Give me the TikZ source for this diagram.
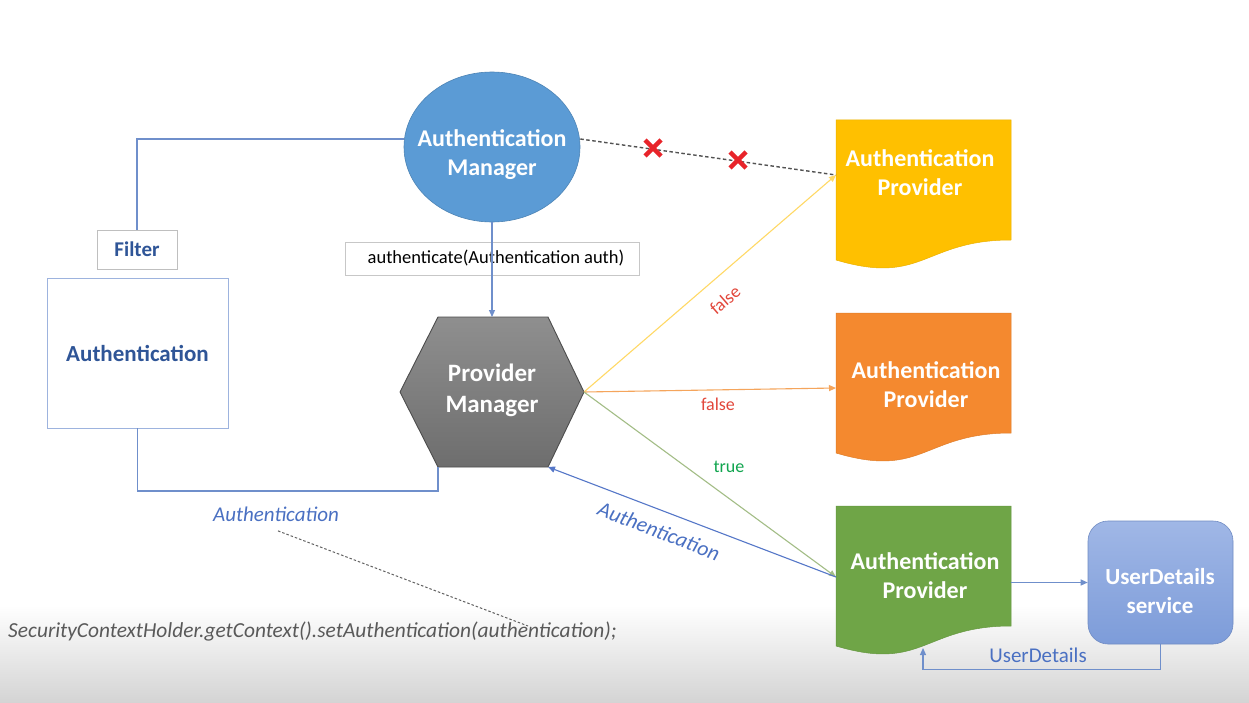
\documentclass[tikz,border=0pt]{standalone}
\usepackage{fontspec}
\setmainfont{Carlito}
\usetikzlibrary{arrows.meta,shapes.geometric,calc}
\definecolor{amblue}{HTML}{5B9BD5}
\definecolor{dkblue}{HTML}{2F5597}
\definecolor{lnblue}{HTML}{6F8FCB}
\definecolor{boxblue}{HTML}{9DB3DE}
\definecolor{ycol}{HTML}{FFC000}
\definecolor{ocol}{HTML}{F4892F}
\definecolor{gcol}{HTML}{6FA547}
\definecolor{yline}{HTML}{FFD966}
\definecolor{oline}{HTML}{F5A55C}
\definecolor{gline}{HTML}{A3BD86}
\definecolor{rblue}{HTML}{5577C8}
\definecolor{fred}{HTML}{E2473B}
\definecolor{tgreen}{HTML}{11A54F}
\definecolor{xred}{HTML}{E8242A}
\definecolor{udstop}{HTML}{A0B7E6}
\definecolor{udsbot}{HTML}{7D9CD9}
\definecolor{codegray}{HTML}{595959}
\definecolor{lblblue}{HTML}{4A70C2}
\tikzset{
  conn/.style={line width=1.1pt},
  tipend/.style={-{Triangle[length=7pt,width=6pt]}},
  whitebold/.style={font=\bfseries\fontsize{24}{29}\selectfont, text=white, align=center},
  smalllbl/.style={font=\fontsize{18}{21}\selectfont},
  italbl/.style={font=\itshape\fontsize{21}{25}\selectfont, text=lblblue},
  xmark/.style={draw=xred, line width=4.5pt},
}
\begin{document}
\begin{tikzpicture}[x=1pt,y=-1pt]
\useasboundingbox (0,0) rectangle (1249,703);
\fill[white] (0,0) rectangle (1249,703);
\shade[top color=white, bottom color=black!17] (0,605) rectangle (1249,703);

% Authentication Manager
\node[ellipse, fill=amblue, draw=amblue!85!black, line width=0.6pt, inner sep=0pt,
      minimum width=176pt, minimum height=150pt] (am) at (492,147) {};
\node[whitebold] (amtext) at (492,155) {Authentication\\Manager};

% Filter and Authentication box
\node[draw=black!25, line width=0.8pt, minimum width=80pt, minimum height=39pt,
      font=\bfseries\fontsize{21}{25}\selectfont, text=dkblue] (filter) at (137,249.5) {Filter};
\node[draw=boxblue, line width=0.9pt, minimum width=181pt, minimum height=150pt,
      font=\bfseries\fontsize{23}{27}\selectfont, text=dkblue] (authbox) at (137.5,353) {Authentication};
\draw[conn, draw=lnblue] ($(am.west)+(0,-8)$) -| (filter.north);

% authenticate call
\node[draw=black!22, line width=0.8pt, minimum width=294pt, minimum height=33pt,
      font=\fontsize{18.5}{22}\selectfont] (authcall) at (492,258.5) {\hspace{8pt}authenticate(Authentication auth)};

% Provider Manager hexagon
\coordinate (pmT) at (492,317);
\coordinate (pmR) at (584,392);
\coordinate (pmBR) at (548,467);
\coordinate (pmBL) at (438,467);
\shade[top color=black!44, bottom color=black!57, draw=black!70, line width=0.9pt]
  (438,317) -- (548,317) -- (pmR) -- (pmBR) -- (pmBL) -- (400,392) -- cycle;
\node[font=\bfseries\fontsize{25}{31}\selectfont, text=white, align=center] (pm) at (492,390) {Provider\\Manager};

\draw[conn, draw=lnblue, tipend] (am.south) -- (pmT);

% Provider shapes
\path[fill=ycol, draw=ycol!92!black, line width=0.5pt] (836,120) -- (1011,120) -- (1011,240) .. controls (923.5,240) and (923.5,286) .. (836,260) -- cycle;
\path[fill=ocol, draw=ocol!92!black, line width=0.5pt] (836,313) -- (1011,313) -- (1011,433) .. controls (923.5,433) and (923.5,479) .. (836,453) -- cycle;
\path[fill=gcol, draw=gcol!92!black, line width=0.5pt] (836,506) -- (1011,506) -- (1011,626) .. controls (923.5,626) and (923.5,672) .. (836,646) -- cycle;
\node[whitebold] (ap1) at (920,172.5) {Authentication\\Provider};
\node[whitebold] (ap2) at (926,385) {Authentication\\Provider};
\node[whitebold] (ap3) at (925,575.5) {Authentication\\Provider};
\coordinate (ap1in) at (836,175);
\coordinate (ap2in) at (836,388);
\coordinate (ap3in) at (836,577);
\coordinate (ap3out) at (1011,582.5);
\coordinate (ap3bot) at (923,648);

% UserDetails service
\node[rounded corners=20pt, top color=udstop, bottom color=udsbot, draw=udsbot!90!black, line width=0.6pt,
      minimum width=145pt, minimum height=123pt] (uds) at (1160.5,582.5) {};
\node[font=\bfseries\fontsize{23}{29}\selectfont, text=white, align=center] (udstext) at (1160,591) {UserDetails\\service};
\draw[conn, draw=lnblue, tipend] (ap3out) -- (uds.west);
\draw[conn, draw=lnblue, tipend] (uds.south) -- ++(0,25) -| (ap3bot);
\node[font=\fontsize{21}{25}\selectfont, text=lblblue] (udlbl) at (1038,655) {UserDetails};

% connectors from Provider Manager
\draw[conn, draw=yline, tipend] (pmR) -- (ap1in);
\draw[conn, draw=oline, tipend] (pmR) -- (ap2in);
\draw[conn, draw=gline, tipend] (pmR) -- (ap3in);
\draw[conn, draw=rblue, tipend] (ap3in) -- (pmBR);
\node[smalllbl, text=fred, rotate=41, inner sep=1pt] (f1) at (725,300) {false};
\node[smalllbl, text=fred] (f2) at (718,404) {false};
\node[smalllbl, text=tgreen] (t3) at (729,467) {true};
\node[font=\itshape\fontsize{21.5}{25}\selectfont, text=lblblue, rotate=-21] (retlbl) at (659,531) {Authentication};

% dashed line manager -> provider with crosses
\draw[line width=1.4pt, draw=black!68, dash pattern=on 3.5pt off 2.5pt] ($(am.east)+(0,-8)$) -- (ap1in);
\draw[xmark] (645,140) -- (661,156) (661,140) -- (645,156);
\draw[xmark] (730,152) -- (746,168) (746,152) -- (730,168);

% bottom return to filter
\draw[conn, draw=lnblue] (authbox.south) |- ($(pmBL)+(0,24)$) -- (pmBL);
\node[italbl] (authlbl) at (276,514) {Authentication};

% SecurityContextHolder
\node[anchor=west, font=\itshape\fontsize{21.4}{25}\selectfont, text=codegray, inner sep=0pt] (code) at (8,632)
  {SecurityContextHolder.getContext().setAuthentication(authentication);};
\coordinate (codept) at (528,626);
\draw[line width=1pt, draw=black!62, dash pattern=on 2.5pt off 2pt] ($(authlbl.south)+(2,6)$) -- (codept);
\end{tikzpicture}
\end{document}
